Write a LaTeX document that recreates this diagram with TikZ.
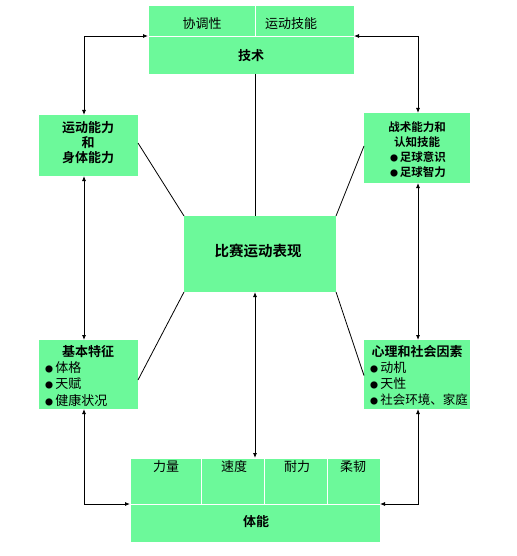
\documentclass[tikz,border=0pt]{standalone}
\usepackage{fontspec}
\setmainfont{Noto Sans CJK SC}[BoldFont={Noto Sans CJK SC Bold}]
\usetikzlibrary{arrows.meta}
\definecolor{boxgreen}{HTML}{6CF99A}
\newcommand\bulmark{{\fontsize{8}{8}\selectfont●}}
\begin{document}
\begin{tikzpicture}[x=1pt,y=-1pt,
  box/.style={fill=boxgreen, draw=none, inner sep=0, outer sep=0, anchor=north west},
  cell/.style={box, draw=white, line width=0.8pt},
  txt/.style={font=\fontsize{13}{15}\selectfont, inner sep=0},
  btxt/.style={font=\fontsize{13}{15}\selectfont\bfseries, inner sep=0},
  stxt/.style={font=\fontsize{11.5}{13}\selectfont\bfseries, inner sep=0},
  ltxt/.style={txt, anchor=west},
  arr/.style={{Latex[length=5pt,width=4pt]}-{Latex[length=5pt,width=4pt]}, line width=0.8pt},
  ln/.style={line width=0.8pt}
]
\useasboundingbox (0,0) rectangle (516,556);

% top box
\node[cell, minimum width=107, minimum height=31] (c1) at (148,5) {};
\node[cell, minimum width=99, minimum height=31] (c2) at (255,5) {};
\node[cell, minimum width=206, minimum height=38] (techbase) at (148,36) {};
\node[txt] (t1) at (202,24) {协调性};
\node[txt] (t2) at (291,24) {运动技能};
\node[btxt] (t3) at (251,56) {技术};

% left top box
\node[box, minimum width=99, minimum height=61] (lt) at (39,115) {};
\node[btxt] (lt1) at (88,128) {运动能力};
\node[btxt] (lt2) at (88,143) {和};
\node[btxt] (lt3) at (88,158) {身体能力};

% right top box
\node[box, minimum width=106, minimum height=70] (rt) at (364,113) {};
\node[stxt] (rt1) at (417,127) {战术能力和};
\node[stxt] (rt2) at (417,142) {认知技能};
\node[stxt] (rt3) at (418,157) {\bulmark\,足球意识};
\node[stxt] (rt4) at (418,172) {\bulmark\,足球智力};

% center box
\node[box, minimum width=152, minimum height=76] (perf) at (184,216) {};
\node[btxt, font=\fontsize{14.5}{16}\selectfont\bfseries] (p1) at (258,251) {比赛运动表现};

% left bottom box
\node[box, minimum width=99, minimum height=69] (lb) at (39,340) {};
\node[btxt] (lb1) at (88,352) {基本特征};
\node[ltxt] (lb2) at (45,368) {\bulmark\,体格};
\node[ltxt] (lb3) at (45,384) {\bulmark\,天赋};
\node[ltxt] (lb4) at (45,400) {\bulmark\,健康状况};

% right bottom box
\node[box, minimum width=106, minimum height=69] (rb) at (364,340) {};
\node[btxt] (rb1) at (417,352) {心理和社会因素};
\node[ltxt] (rb2) at (370,368) {\bulmark\,动机};
\node[ltxt] (rb3) at (370,384) {\bulmark\,天性};
\node[ltxt, font=\fontsize{12.5}{14}\selectfont] (rb4) at (370,400) {\bulmark\,社会环境、家庭};

% bottom box
\node[cell, minimum width=71, minimum height=46] (s1) at (130,458) {};
\node[cell, minimum width=63, minimum height=46] (s2) at (201,458) {};
\node[cell, minimum width=63, minimum height=46] (s3) at (264,458) {};
\node[cell, minimum width=53, minimum height=46] (s4) at (327,458) {};
\node[cell, minimum width=250, minimum height=38] (physbase) at (130,504) {};
\node[txt] (f1) at (166,467) {力量};
\node[txt] (f2) at (234,467) {速度};
\node[txt] (f3) at (297,467) {耐力};
\node[txt] (f4) at (353,467) {柔韧};
\node[btxt] (f5) at (256,522) {体能};

% connectors
\draw[arr] ([xshift=-4.5pt]lt.north) |- (techbase.north west);
\draw[arr] ([xshift=1pt]rt.north) |- (techbase.north east);
\draw[arr] ([xshift=-4.5pt]lt.south) -- ([xshift=-4.5pt]lb.north);
\draw[arr] ([xshift=1pt]rt.south) -- ([xshift=1pt]rb.north);
\draw[arr] ([xshift=-4.5pt]lb.south) |- (physbase.north west);
\draw[arr] ([xshift=1pt]rb.south) |- (physbase.north east);
\draw[ln] ([xshift=4pt]techbase.south) -- ([xshift=-5pt]perf.north);
\draw[arr] ([xshift=-5pt]perf.south) -- (physbase.north |- s2.north);
\draw[ln] (perf.north west) -- ([yshift=2.5pt]lt.east);
\draw[ln] (perf.north east) -- ([yshift=2pt]rt.west);
\draw[ln] (perf.south west) -- ([yshift=-5.5pt]lb.east);
\draw[ln] (perf.south east) -- ([yshift=-1pt]rb.west);
\end{tikzpicture}
\end{document}
